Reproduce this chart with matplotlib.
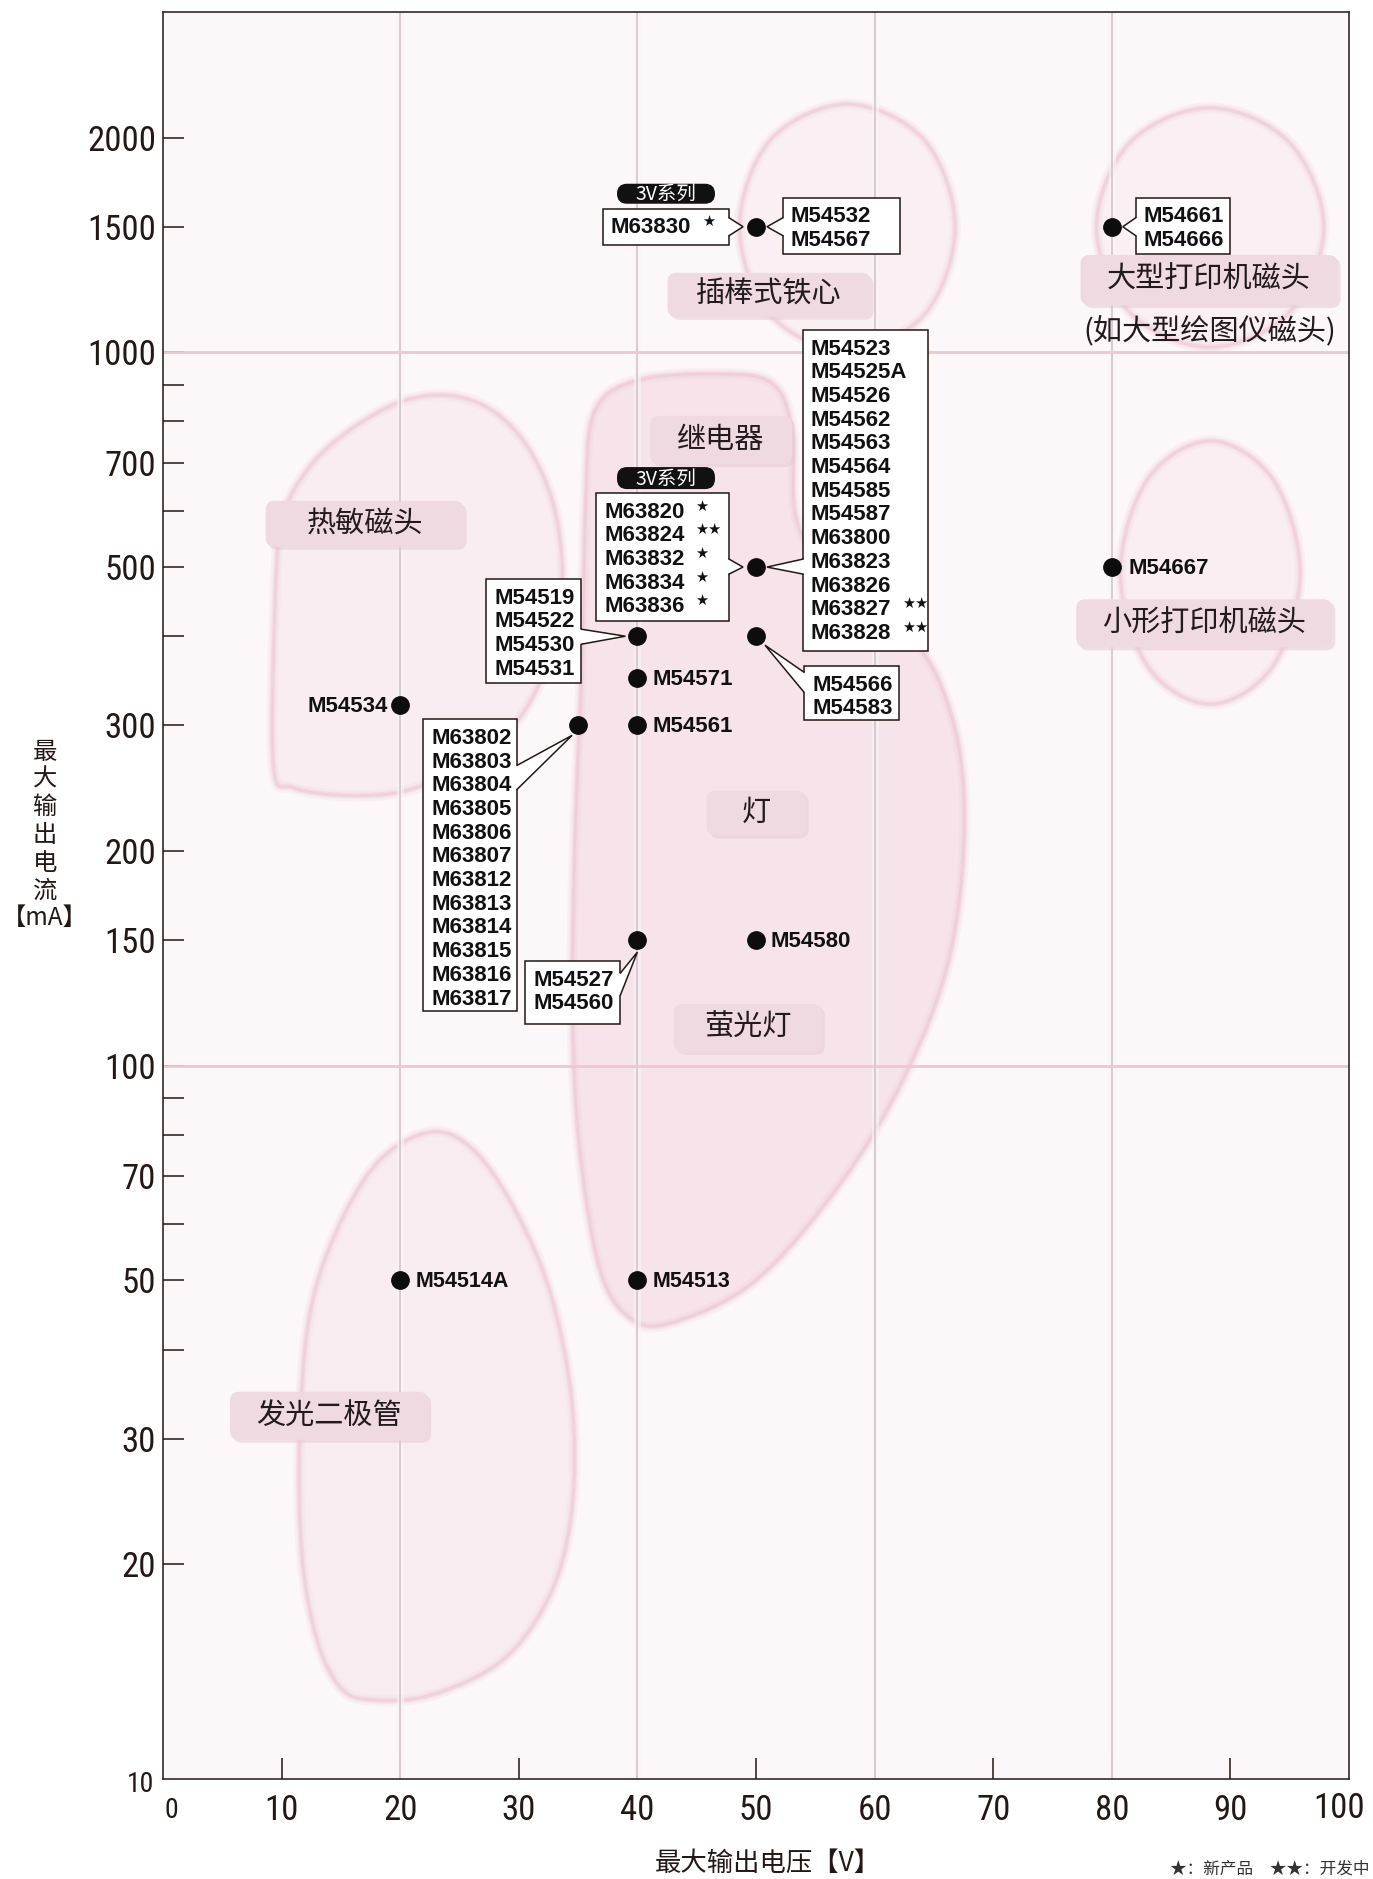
import numpy as np
import matplotlib
matplotlib.use("Agg")
import matplotlib.pyplot as plt
from matplotlib import font_manager as fm
from matplotlib.path import Path
from matplotlib.patches import PathPatch, Rectangle, FancyBboxPatch, Polygon
from matplotlib.ticker import NullFormatter, NullLocator
import matplotlib.transforms as mtransforms

W, H, DPI = 1373, 1879, 100

# ------------------------------------------------------------------ data
x_tick_values = [10, 20, 30, 40, 50, 60, 70, 80, 90]
y_major_values = [20, 30, 50, 70, 100, 150, 200, 300, 500, 700, 1000, 1500, 2000]
y_minor_values = [40, 60, 80, 90, 400, 600, 800, 900]
grid_voltages = [20, 40, 60, 80]
grid_currents = [100, 1000]

# product points (max output voltage [V], max output current [mA])
dot_voltage = [50, 80, 50, 40, 50, 40, 40, 20, 35, 40, 50, 80, 20, 40]
dot_current = [1500, 1500, 500, 400, 400, 350, 300, 320, 300, 150, 150, 500, 50, 50]

# boxed model lists attached to points
box_voltage = [50, 50, 80, 50, 50, 40, 50, 35, 40]
box_current = [1500, 1500, 1500, 500, 500, 400, 400, 300, 150]
box_models = [
    ["M63830"],
    ["M54532", "M54567"],
    ["M54661", "M54666"],
    ["M63820", "M63824", "M63832", "M63834", "M63836"],
    ["M54523", "M54525A", "M54526", "M54562", "M54563", "M54564", "M54585",
     "M54587", "M63800", "M63823", "M63826", "M63827", "M63828"],
    ["M54519", "M54522", "M54530", "M54531"],
    ["M54566", "M54583"],
    ["M63802", "M63803", "M63804", "M63805", "M63806", "M63807", "M63812",
     "M63813", "M63814", "M63815", "M63816", "M63817"],
    ["M54527", "M54560"],
]
box_stars = [
    [1],
    [0, 0],
    [0, 0],
    [1, 2, 1, 1, 1],
    [0, 0, 0, 0, 0, 0, 0, 0, 0, 0, 0, 2, 2],
    [0, 0, 0, 0],
    [0, 0],
    [0] * 12,
    [0, 0],
]
box_series_tag = ["3V系列", "", "", "3V系列", "", "", "", "", ""]

# single labels next to points
single_voltage = [20, 40, 40, 50, 80, 20, 40]
single_current = [320, 350, 300, 150, 500, 50, 50]
single_models = ["M54534", "M54571", "M54561", "M54580", "M54667", "M54514A", "M54513"]

# application regions (outline: voltage, current)
thermal_v = [9.4, 9.3, 11.0, 15.6, 20.6, 25.7, 30.2, 32.9, 33.7, 32.9, 30.7, 27.7, 24.1, 20.1, 15.8, 12.3, 10.0]
thermal_ma = [430, 262, 245, 239, 243, 265, 309, 387, 488, 615, 740, 831, 871, 854, 780, 690, 580]
plunger_v = [57.7, 64.2, 66.8, 64.2, 57.7, 51.2, 48.6, 51.2]
plunger_ma = [2229, 1985, 1497, 1129, 1005, 1129, 1497, 1985]
large_printer_v = [88.3, 95.0, 97.9, 95.0, 88.3, 81.5, 78.7, 81.5]
large_printer_ma = [2203, 1968, 1497, 1138, 1016, 1138, 1497, 1968]
small_printer_v = [88.3, 93.6, 95.9, 93.6, 88.3, 83.0, 80.7, 83.0]
small_printer_ma = [752, 664, 491, 363, 321, 363, 491, 664]
lamp_v = [53.1, 54.1, 63.0, 66.6, 67.6, 66.3, 62.5, 57.0, 49.9, 42.8, 39.3, 36.8,
          35.1, 34.5, 34.7, 35.3, 35.6, 36.3, 39.8, 46.9, 51.4]
lamp_ma = [775, 548, 402, 306, 216, 141, 96.1, 67.8, 49.8, 43.5, 44.3, 51.8,
           76.2, 117, 208, 372, 615, 822, 913, 934, 905]
led_v = [22.6, 26.2, 29.7, 32.7, 34.5, 34.5, 32.7, 28.7, 22.6, 17.6, 15.0, 13.0,
         11.7, 11.5, 12.3, 14.5, 18.1]
led_ma = [80.8, 76.2, 62.8, 47.9, 33.8, 23.9, 18.2, 14.7, 13.1, 12.9, 13.4, 15.6,
          20.5, 30.1, 44.3, 58.1, 73.3]

category_names = ["插棒式铁心", "大型打印机磁头", "继电器", "热敏磁头",
                  "小形打印机磁头", "灯", "萤光灯", "发光二极管"]
category_voltage = [51.1, 88.2, 47.05, 17.0, 87.8, 50.0, 49.3, 14.0]
category_current = [1204, 1263, 754, 575, 417, 226, 113, 32.3]
note_text = "(如大型绘图仪磁头)"
note_voltage, note_current = 88.3, 1068

x_label = "最大输出电压【V】"
y_label_chars = ["最", "大", "输", "出", "电", "流", "【mA】"]
legend_text = "★：新产品　★★：开发中"

# ------------------------------------------------------------------ layout / style
# callout boxes in pixels relative to the point (left, top, right, bottom; y downwards)
box_rect = [(-153, -18, -27, 18), (27, -29, 144, 27), (24, -29, 118, 27),
            (-160, -74, -27, 54), (47, -237, 172, 84), (-151, -57, -56, 47),
            (48, 30, 143, 84), (-155, -6, -61, 286), (-112, 21, -17, 84)]
box_tail = [((-27, -9), (-27, 9), (-13, 0)), ((27, -9), (27, 9), (11, 0)),
            ((24, -9), (24, 9), (11, 0)), ((-27, -8), (-27, 7), (-13, 0)),
            ((47, -8), (47, 7), (11, 0)), ((-56, -7), (-56, 8), (-12, 0)),
            ((48, 36), (48, 56), (9, 9)), ((-61, 40), (-61, 64), (-6, 10)),
            ((-17, 33), (-17, 55), (0, 12))]
pill_rect = [(-139, -43, -41, -23), None, None, (-139, -100, -41, -78),
             None, None, None, None, None]
single_dx = [-12, 15, 15, 15, 17, 15, 15]
category_box = [(203, 44), (257, 50), (142, 48), (198, 46), (256, 48),
                (99, 45), (148, 48), (198, 48)]

INK = "#231815"
CJK = ["Noto Sans CJK SC", "DejaVu Sans"]

# narrow face for the numbers if one is installed
avail = {f.name for f in fm.fontManager.ttflist}
narrow_fp = None
for nm in ["Liberation Sans Narrow", "Roboto Condensed", "Arial Narrow",
           "Nimbus Sans Narrow", "Open Sans Condensed"]:
    if nm in avail:
        narrow_fp = dict(family=nm)
        break
if narrow_fp is None:
    for f in fm.fontManager.ttflist:
        if (f.name in ("Roboto", "Open Sans", "Noto Sans", "DejaVu Sans", "Liberation Sans")
                and str(f.stretch) in ("condensed", "semi-condensed")
                and f.style == "normal" and f.weight in (400, "normal", "regular")):
            narrow_fp = dict(fname=f.fname)
            break
if narrow_fp is not None:
    fp_tick = fm.FontProperties(size=25, **narrow_fp)
    fp_tick_small = fm.FontProperties(size=20, **narrow_fp)
else:
    fp_tick = fm.FontProperties(family="Liberation Sans", size=22)
    fp_tick_small = fm.FontProperties(family="Liberation Sans", size=17.5)

fp_box = fm.FontProperties(family="Liberation Sans", weight="bold", size=16)
fp_small_lab = fm.FontProperties(family="Liberation Sans", weight="bold", size=15.5)
fp_star = fm.FontProperties(family="DejaVu Sans", size=10.5)
fp_cat = fm.FontProperties(family=CJK, size=21)
fp_pill = fm.FontProperties(family=CJK, size=14)
fp_axis = fm.FontProperties(family=CJK, size=19)
fp_ylab = fm.FontProperties(family=CJK, size=17.5)
fp_leg = fm.FontProperties(family=CJK, size=12)

# ------------------------------------------------------------------ figure
fig = plt.figure(figsize=(W / DPI, H / DPI), dpi=DPI)
fig.patch.set_facecolor("white")
ax = fig.add_axes([163 / W, 1 - 1779 / H, 1186 / W, 1767 / H])
ax.set_yscale("log")
ax.set_xlim(0, 100)
ax.set_ylim(10, 3000)
ax.set_facecolor("#fcf7f9")
for sp in ax.spines.values():
    sp.set_linewidth(1.1)
    sp.set_color(INK)
    sp.set_zorder(9)

ax.set_xticks(x_tick_values, [str(v) for v in x_tick_values])
ax.xaxis.set_minor_locator(NullLocator())
ax.set_yticks(y_major_values, [str(v) for v in y_major_values])
ax.set_yticks(y_minor_values, minor=True)
ax.yaxis.set_minor_formatter(NullFormatter())
ax.tick_params(axis="both", which="both", direction="in", length=15,
               width=1.1, color=INK, labelcolor=INK)
ax.tick_params(axis="y", which="both", pad=5)
ax.tick_params(axis="x", pad=11)
for lab in ax.get_xticklabels() + ax.get_yticklabels():
    lab.set_fontproperties(fp_tick)

ax.annotate("0", xy=(0, 10), xytext=(8, -32), textcoords="offset pixels",
            ha="center", va="center", fontproperties=fp_tick_small, color=INK,
            annotation_clip=False)
ax.annotate("10", xy=(0, 10), xytext=(-22, -6), textcoords="offset pixels",
            ha="center", va="center", fontproperties=fp_tick_small, color=INK,
            annotation_clip=False)
ax.annotate("100", xy=(100, 10), xytext=(-10, -30), textcoords="offset pixels",
            ha="center", va="center", fontproperties=fp_tick, color=INK,
            annotation_clip=False)

IDT = mtransforms.IdentityTransform()


def disp(v, ma):
    return ax.transData.transform((v, ma))


def smooth_closed(points):
    P = np.asarray(points, float)
    n = len(P)
    verts = [P[0]]
    codes = [Path.MOVETO]
    for i in range(n):
        p0, p1, p2, p3 = P[(i - 1) % n], P[i], P[(i + 1) % n], P[(i + 2) % n]
        verts += [p1 + (p2 - p0) / 6.0, p2 - (p3 - p1) / 6.0, p2]
        codes += [Path.CURVE4] * 3
    verts.append(P[0])
    codes.append(Path.CLOSEPOLY)
    return Path(verts, codes)


# ------------------------------------------------------------------ regions
regions = [(thermal_v, thermal_ma), (plunger_v, plunger_ma),
           (large_printer_v, large_printer_ma), (small_printer_v, small_printer_ma),
           (lamp_v, lamp_ma), (led_v, led_ma)]
region_fill = ["#f9edf1", "#faf0f3", "#faf0f3", "#faeef2", "#f7e4ea", "#f9ecf0"]
for (vs, mas), fc in zip(regions, region_fill):
    pts = ax.transData.transform(np.column_stack([vs, mas]))
    path = smooth_closed(pts)
    ax.add_patch(PathPatch(path, transform=IDT, fc=fc, ec="none", zorder=1))
    for lw, al in [(8, 0.14), (4.5, 0.25), (2.2, 0.45)]:
        ax.add_patch(PathPatch(path, transform=IDT, fc="none", ec="#ecc2cf", lw=lw,
                               alpha=al, zorder=1.1))

# grid lines
for v in grid_voltages:
    ax.axvline(v, color="#faf5f7", lw=5, alpha=0.6, zorder=1.9)
    ax.axvline(v, color="#d8cad2", lw=1.4, zorder=2)
for m in grid_currents:
    ax.axhline(m, color="#efc6d2", lw=2.0, zorder=2)

# category labels
for name, v, ma, (bw, bh) in zip(category_names, category_voltage,
                                 category_current, category_box):
    X, Y = disp(v, ma)
    ax.add_patch(FancyBboxPatch((X - bw / 2 + 3, Y - bh / 2 - 3), bw, bh,
                                boxstyle="round,pad=0,rounding_size=9",
                                transform=IDT, fc="#e6cbd5", ec="none",
                                alpha=0.55, zorder=3))
    ax.add_patch(FancyBboxPatch((X - bw / 2, Y - bh / 2), bw, bh,
                                boxstyle="round,pad=0,rounding_size=9",
                                transform=IDT, fc="#efdae1", ec="none", zorder=3.1))
    ax.text(X, Y, name, transform=IDT, ha="center", va="center",
            fontproperties=fp_cat, color="#221a1e", zorder=4)
X, Y = disp(note_voltage, note_current)
ax.text(X, Y, note_text, transform=IDT, ha="center", va="center",
        fontproperties=fp_cat, color="#221a1e", zorder=4)

# callout boxes
LINE_STEP = 23.7
for i in range(len(box_voltage)):
    X, Y = disp(box_voltage[i], box_current[i])
    L, T, R, B = box_rect[i]
    x0, x1 = X + L, X + R
    ytop, ybot = Y - T, Y - B
    ax.add_patch(Rectangle((x0, ybot), x1 - x0, ytop - ybot, transform=IDT,
                           fc="white", ec=INK, lw=1.1, zorder=5))
    (b1x, b1y), (b2x, b2y), (apx, apy) = box_tail[i]
    inward = 3.0 if b1x == L else -3.0
    fill_pts = [(X + b1x + inward, Y - b1y), (X + b1x, Y - b1y), (X + apx, Y - apy),
                (X + b2x, Y - b2y), (X + b2x + inward, Y - b2y)]
    ax.add_patch(Polygon(fill_pts, closed=True, transform=IDT, fc="white",
                         ec="none", zorder=5.2))
    ax.plot([X + b1x, X + apx, X + b2x], [Y - b1y, Y - apy, Y - b2y],
            transform=IDT, color=INK, lw=1.1, zorder=5.3, solid_joinstyle="miter")
    for j, (model, nstar) in enumerate(zip(box_models[i], box_stars[i])):
        by = ytop - 24.5 - j * LINE_STEP
        ax.text(x0 + 8, by, model, transform=IDT, ha="left", va="baseline",
                fontproperties=fp_box, color="#111111", zorder=7)
        if nstar:
            ax.text(x0 + 99, by + 7, "★" * nstar, transform=IDT, ha="left",
                    va="baseline", fontproperties=fp_star, color="#111111", zorder=7)
    if pill_rect[i] is not None:
        pl, pt, pr, pb = pill_rect[i]
        ax.add_patch(FancyBboxPatch((X + pl, Y - pb), pr - pl, pb - pt,
                                    boxstyle="round,pad=0,rounding_size=10",
                                    transform=IDT, fc="#111111", ec="none", zorder=5))
        ax.text(X + (pl + pr) / 2, Y - (pt + pb) / 2 - 1, box_series_tag[i],
                transform=IDT, ha="center", va="center", fontproperties=fp_pill,
                color="white", zorder=7)

# single labels
for v, ma, model, dx in zip(single_voltage, single_current, single_models, single_dx):
    X, Y = disp(v, ma)
    fp = fp_small_lab if model in ("M54514A", "M54513") else fp_box
    ax.text(X + dx, Y - 7, model, transform=IDT, ha="right" if dx < 0 else "left",
            va="baseline", fontproperties=fp, color="#111111", zorder=7)

# points
ax.plot(dot_voltage, dot_current, "o", ls="none", color="#0d0d0d", ms=12.5, zorder=8)

# ------------------------------------------------------------------ axis titles, legend
fig.text(768 / W, 1 - 1863 / H, x_label, ha="center", va="center",
         fontproperties=fp_axis, color=INK)
for k, ch in enumerate(y_label_chars):
    fig.text(45 / W, 1 - (752 + 27.7 * k) / H, ch, ha="center", va="center",
             fontproperties=fp_ylab, color=INK)
fig.text(1369 / W, 5 / H, legend_text, ha="right", va="baseline",
         fontproperties=fp_leg, color="#333333")

fig.savefig("out.png", dpi=DPI, facecolor="white")
